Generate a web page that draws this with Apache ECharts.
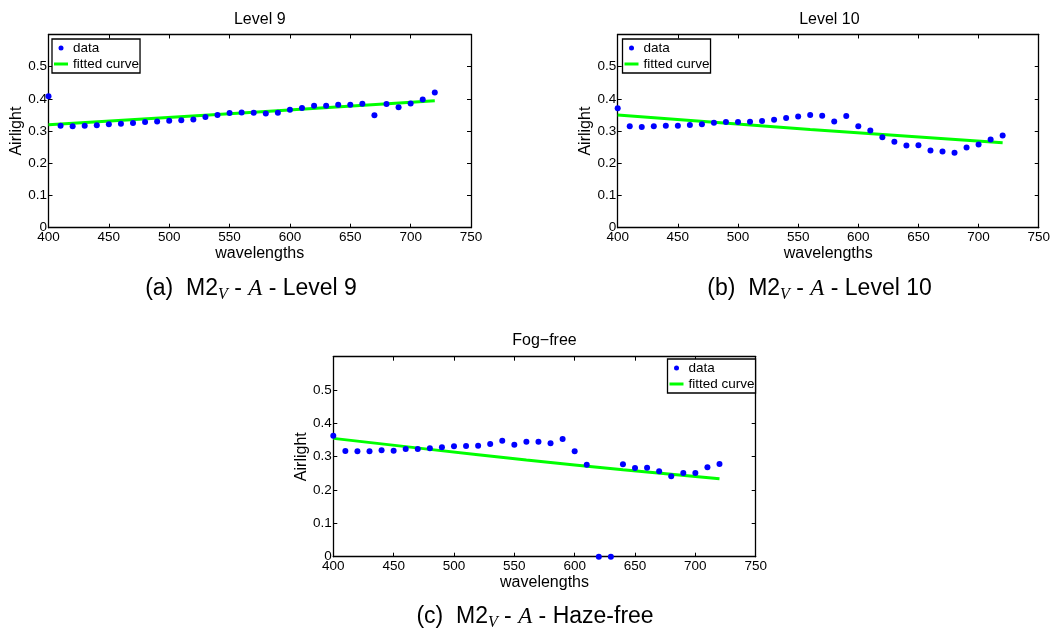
<!DOCTYPE html>
<html>
<head>
<meta charset="utf-8">
<script src="https://cdn.jsdelivr.net/npm/echarts@6/dist/echarts.min.js"></script>
<style>html,body{margin:0;padding:0;background:#fff}#c{width:1053px;height:633px}</style>
</head>
<body>
<div id="c"></div>
<script>
// ---- data ----
const wavelengths = [400,410,420,430,440,450,460,470,480,490,500,510,520,530,540,550,560,570,580,590,600,610,620,630,640,650,660,670,680,690,700,710,720];
const level9Data = [0.408,0.317,0.315,0.317,0.318,0.321,0.323,0.325,0.328,0.330,0.332,0.334,0.336,0.344,0.350,0.356,0.358,0.357,0.355,0.357,0.366,0.372,0.379,0.379,0.382,0.382,0.385,0.349,0.384,0.374,0.386,0.398,0.420];
const level10Data = [0.371,0.315,0.313,0.315,0.317,0.317,0.319,0.321,0.326,0.328,0.328,0.329,0.331,0.335,0.341,0.345,0.350,0.348,0.330,0.347,0.315,0.302,0.281,0.267,0.255,0.256,0.240,0.237,0.233,0.249,0.258,0.274,0.286];
const fogFreeData = [0.363,0.317,0.316,0.316,0.319,0.318,0.323,0.323,0.325,0.328,0.331,0.332,0.333,0.338,0.348,0.336,0.345,0.345,0.340,0.353,0.316,0.276,0.0,0.0,0.277,0.266,0.267,0.256,0.241,0.251,0.251,0.268,0.278];
const fit9X = [400,560,720];
const fit9Y = [0.320,0.356,0.394];
const fit10X = [400,560,720];
const fit10Y = [0.350,0.305,0.264];
const fitFogX = [400,480,560,640,720];
const fitFogY = [0.355,0.322,0.290,0.261,0.234];
const plotTitles = ['Level 9','Level 10','Fog\u2212free'];
const captionTags = ['(a)','(b)','(c)'];
const captionTails = ['Level 9','Level 10','Haze-free'];
const xTicks = {min:400, max:750, interval:50};
const yTicks = {min:0, max:0.6, interval:0.1};
const xName = 'wavelengths';
const yName = 'Airlight';

// ---- layout ----
const grids = [
  {left:48.5, top:34.5, width:422.5, height:193.2},
  {left:617.7, top:34.5, width:423.3, height:193.2},
  {left:333.3, top:356.7, width:422.4, height:200}
];
const legendPos = [{left:52, top:39},{left:622.5, top:39},{left:667.5, top:359}];
const captionPos = [{x:251, top:275},{x:819.5, top:275},{x:535, top:603}];
const titlePos = [{x:259.75, top:10},{x:829.4, top:10},{x:544.5, top:331}];

const FONT = 'Liberation Sans, Arial, Helvetica, sans-serif';
const SERIF = 'Liberation Serif, Times New Roman, serif';
const seriesData = [level9Data, level10Data, fogFreeData];
const fits = [[fit9X, fit9Y],[fit10X, fit10Y],[fitFogX, fitFogY]];

const xAxes = [], yAxes = [], series = [], legends = [], titles = [];
grids.forEach((g, i) => {
  const common = {gridIndex:i, min:xTicks.min, max:xTicks.max, interval:xTicks.interval,
    axisLine:{show:true, onZero:false, lineStyle:{color:'#000', width:1.3}},
    axisTick:{show:true, inside:true, length:4, lineStyle:{color:'#000', width:1}},
    splitLine:{show:false}};
  xAxes.push(Object.assign({}, common, {type:'value', position:'bottom',
    name:xName, nameLocation:'middle', nameGap:11,
    nameTextStyle:{fontFamily:FONT, fontSize:16, color:'#000'},
    axisLabel:{show:true, margin:3, fontFamily:FONT, fontSize:13.5, color:'#000',
      formatter: v => String(v)}}));
  xAxes.push(Object.assign({}, common, {type:'value', position:'top', axisLabel:{show:false}}));
  const ycommon = {gridIndex:i, min:yTicks.min, max:yTicks.max, interval:yTicks.interval,
    axisLine:{show:true, onZero:false, lineStyle:{color:'#000', width:1.3}},
    axisTick:{show:true, inside:true, length:4, lineStyle:{color:'#000', width:1}},
    splitLine:{show:false}};
  yAxes.push(Object.assign({}, ycommon, {type:'value', position:'left',
    name:yName, nameLocation:'middle', nameGap:22, nameRotate:90,
    nameTextStyle:{fontFamily:FONT, fontSize:16, color:'#000'},
    axisLabel:{show:true, margin:1.5, fontFamily:FONT, fontSize:13.5, color:'#000',
      formatter: v => v > 0.55 ? '' : (v === 0 ? '0' : v.toFixed(1))}}));
  yAxes.push(Object.assign({}, ycommon, {type:'value', position:'right', axisLabel:{show:false}}));

  series.push({type:'scatter', name:'data', xAxisIndex:2*i, yAxisIndex:2*i,
    symbol:'circle', symbolSize:6, itemStyle:{color:'#0000ff', opacity:1}, color:'#0000ff',
    data: wavelengths.map((w, k) => [w, seriesData[i][k]]), z:3, clip:false});
  series.push({type:'line', name:'fitted curve', xAxisIndex:2*i, yAxisIndex:2*i,
    showSymbol:false, smooth: fits[i][0].length > 3, color:'#00ff00',
    lineStyle:{color:'#00ff00', width:3}, itemStyle:{color:'#00ff00'},
    data: fits[i][0].map((x, k) => [x, fits[i][1][k]]), z:2});

  legends.push({left:legendPos[i].left, top:legendPos[i].top, orient:'vertical',
    selectedMode:false, backgroundColor:'#fff', borderColor:'#000', borderWidth:1.3,
    padding:[2,1,2,2], itemGap:2, itemWidth:14, itemHeight:5,
    textStyle:{fontFamily:FONT, fontSize:13.5, color:'#000', lineHeight:14},
    data:[{name:'data', icon:'circle', itemStyle:{color:'#0000ff', opacity:1}},
          {name:'fitted curve', icon:'path://M0,0L14,0L14,3L0,3Z', itemStyle:{color:'#00ff00', borderWidth:0}}]});

  titles.push({text:plotTitles[i], left:titlePos[i].x, top:titlePos[i].top, textAlign:'center', padding:0,
    textStyle:{fontFamily:FONT, fontSize:16, fontWeight:'normal', color:'#000', lineHeight:20}});
  titles.push({text:'{n|' + captionTags[i] + '  M2}{s|V}{n| - }{i|A}{n| - ' + captionTails[i] + '}',
    left:captionPos[i].x, top:captionPos[i].top, textAlign:'center', padding:0,
    textStyle:{fontFamily:FONT, fontSize:23, fontWeight:'normal', color:'#000',
      rich:{
        n:{fontFamily:FONT, fontSize:23, lineHeight:28, color:'#000', verticalAlign:'middle'},
        s:{fontFamily:SERIF, fontStyle:'italic', fontSize:16, lineHeight:14, color:'#000', verticalAlign:'bottom'},
        i:{fontFamily:SERIF, fontStyle:'italic', fontSize:23, lineHeight:28, color:'#000', verticalAlign:'middle'}
      }}});
});

const chart = echarts.init(document.getElementById('c'), null, {renderer:'canvas'});
chart.setOption({
  animation:false,
  backgroundColor:'#fff',
  title:titles,
  legend:legends,
  grid:grids.map(g => Object.assign({containLabel:false, show:false}, g)),
  xAxis:xAxes,
  yAxis:yAxes,
  series:series
});
</script>
</body>
</html>
